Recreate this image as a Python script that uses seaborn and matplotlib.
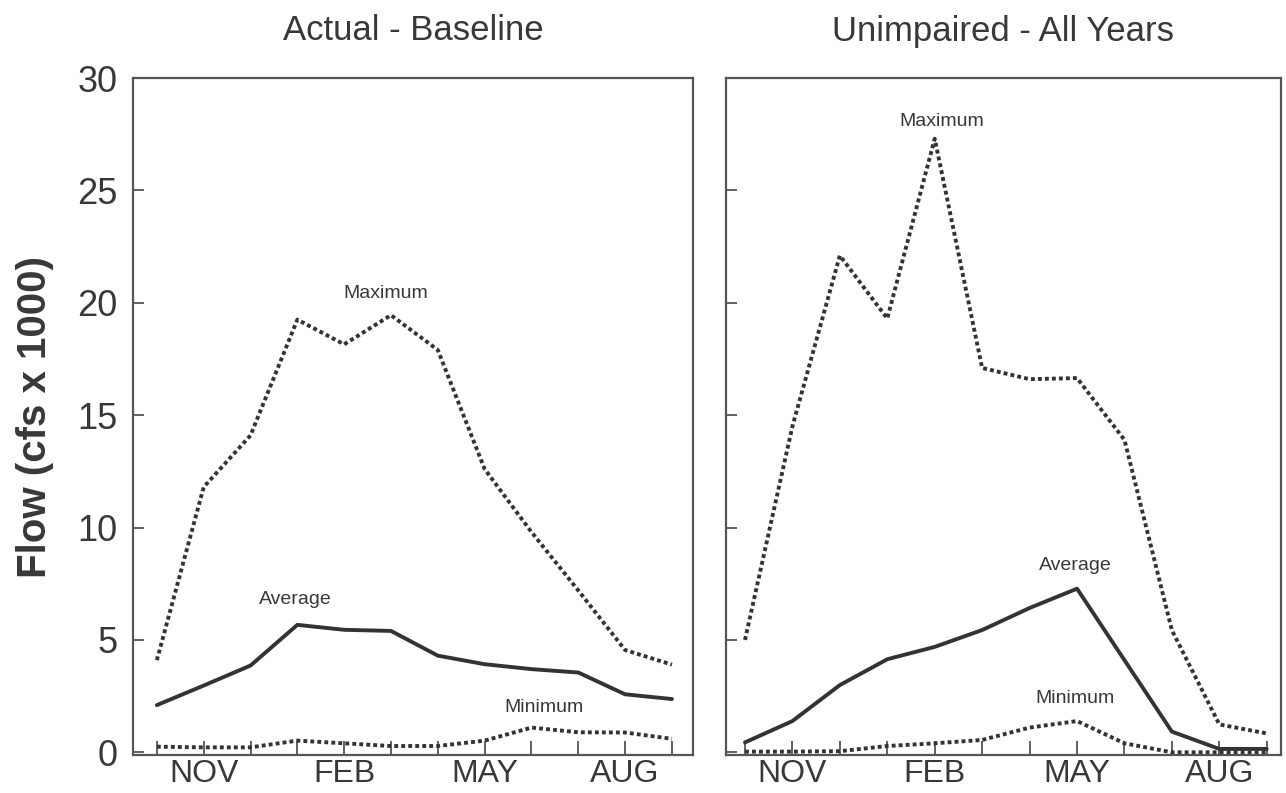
import matplotlib
matplotlib.use("Agg")
import matplotlib.pyplot as plt
import seaborn as sns
import pandas as pd

months = ["OCT", "NOV", "DEC", "JAN", "FEB", "MAR", "APR", "MAY", "JUN", "JUL", "AUG", "SEP"]
tick_labels = ["", "NOV", "", "", "FEB", "", "", "MAY", "", "", "AUG", ""]

actual_max = [4.1, 11.8, 14.1, 19.25, 18.15, 19.45, 17.9, 12.6, 9.8, 7.2, 4.55, 3.9]
actual_avg = [2.1, 2.97, 3.86, 5.67, 5.45, 5.4, 4.3, 3.92, 3.7, 3.55, 2.58, 2.37]
actual_min = [0.25, 0.22, 0.22, 0.52, 0.4, 0.28, 0.28, 0.52, 1.1, 0.89, 0.88, 0.6]

unimp_max = [5.0, 14.5, 22.1, 19.3, 27.3, 17.1, 16.6, 16.65, 13.9, 5.43, 1.24, 0.84]
unimp_avg = [0.44, 1.39, 2.99, 4.14, 4.69, 5.44, 6.42, 7.28, 4.1, 0.92, 0.15, 0.15]
unimp_min = [0.03, 0.03, 0.05, 0.28, 0.4, 0.55, 1.1, 1.39, 0.4, 0.0, 0.0, 0.0]

titles = ["Actual - Baseline", "Unimpaired - All Years"]
y_ticks = [0, 5, 10, 15, 20, 25, 30]

sns.set_theme(style="white")
plt.rcParams["font.family"] = ["Liberation Sans", "DejaVu Sans"]

LINE = "#333333"
SPINE = "#555555"
TEXT = "#383838"

fig = plt.figure(figsize=(12.86, 7.93), dpi=100)
ax1 = fig.add_axes([133 / 1286, 1 - 755 / 793, 560 / 1286, 677 / 793])
ax2 = fig.add_axes([726 / 1286, 1 - 755 / 793, 555 / 1286, 677 / 793])

panels = [
    (ax1, actual_max, actual_avg, actual_min, (-0.51, 11.45)),
    (ax2, unimp_max, unimp_avg, unimp_min, (-0.4, 11.3)),
]

x_idx = list(range(len(months)))
for i, (ax, mx, av, mn, xl) in enumerate(panels):
    df = pd.DataFrame({"m": x_idx, "max": mx, "avg": av, "min": mn})
    sns.lineplot(data=df, x="m", y="max", ax=ax, color=LINE, lw=2.8,
                 linestyle=(0, (1.0, 0.8)))
    sns.lineplot(data=df, x="m", y="avg", ax=ax, color=LINE, lw=2.8)
    sns.lineplot(data=df, x="m", y="min", ax=ax, color=LINE, lw=2.8,
                 linestyle=(0, (1.0, 0.8)))
    ax.set_xlim(*xl)
    ax.set_ylim(-0.12, 30)
    ax.set_xticks(x_idx)
    ax.set_xticklabels(tick_labels)
    ax.set_yticks(y_ticks)
    ax.set_xlabel("")
    ax.set_ylabel("")
    ax.tick_params(axis="x", bottom=True, direction="in", length=10, width=1.3,
                   color=SPINE, labelsize=23, labelcolor=TEXT, pad=3)
    ax.tick_params(axis="y", left=True, direction="in", length=8, width=1.3,
                   color=SPINE, labelsize=26, labelcolor=TEXT, pad=11)
    for s in ax.spines.values():
        s.set_visible(True)
        s.set_color(SPINE)
        s.set_linewidth(1.6)
    ax.set_title(titles[i], fontsize=25, color=TEXT, pad=27)

ax2.set_yticklabels([])
ax1.set_ylabel("Flow (cfs x 1000)", fontsize=29, fontweight="bold", color=TEXT, labelpad=17)

ann = dict(fontsize=14, color=TEXT, ha="center", va="center")
ax1.text(4.88, 20.4, "Maximum", **ann)
ax1.text(2.95, 6.8, "Average", **ann)
ax1.text(8.27, 2.0, "Minimum", **ann)
ax2.text(4.15, 28.05, "Maximum", **ann)
ax2.text(6.96, 8.32, "Average", **ann)
ax2.text(6.95, 2.4, "Minimum", **ann)

fig.savefig("out.png", dpi=100, facecolor="white")
